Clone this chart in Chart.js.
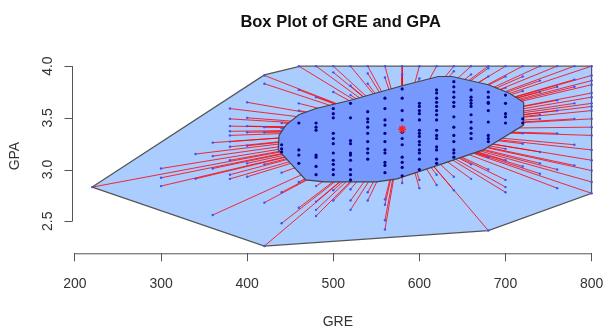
<!DOCTYPE html>
<html>
<head>
<meta charset="utf-8">
<script src="https://cdn.jsdelivr.net/npm/chart.js@4"></script>
<style>
  body { margin: 0; background: #fff; }
  #wrap { width: 609px; height: 336px; }
</style>
</head>
<body>
<div id="wrap"><canvas id="chart"></canvas></div>
<script>
// tick labels
const xTicks = [200, 300, 400, 500, 600, 700, 800];
const yTicks = [2.5, 3.0, 3.5, 4.0];

// loop (outer hull) and bag (inner hull) vertices
const loopGre = [220, 420, 462, 800, 800, 680, 420, 220];
const loopGpa = [2.83, 3.915, 4.0, 4.0, 2.77, 2.41, 2.26, 2.83];
const bagGre = [436, 437, 445, 460, 480, 520, 580, 622, 638, 680, 704, 721, 721, 674, 628, 574, 550, 490, 468, 436];
const bagGpa = [3.19, 3.33, 3.43, 3.53, 3.59, 3.67, 3.81, 3.90, 3.90, 3.82, 3.74, 3.65, 3.43, 3.19, 3.06, 2.91, 2.88, 2.88, 2.90, 3.19];

// depth median
const centerGre = 580;
const centerGpa = 3.39;

// points inside the bag
const bagPtGre = [
  440, 440, 440,
  460, 460, 460, 460,
  480, 480, 480, 480, 480, 480, 480,
  500, 500, 500, 500, 500, 500, 500, 500, 500, 500, 500,
  520, 520, 520, 520, 520, 520, 520, 520, 520, 520,
  540, 540, 540, 540, 540, 540, 540, 540, 540,
  560, 560, 560, 560, 560, 560, 560, 560, 560, 560, 560,
  580, 580, 580, 580, 580, 580, 580, 580, 580, 580, 580,
  600, 600, 600, 600, 600, 600, 600, 600, 600, 600, 600, 600, 600, 600,
  620, 620, 620, 620, 620, 620, 620, 620, 620, 620, 620, 620, 620, 620, 620,
  640, 640, 640, 640, 640, 640, 640, 640, 640, 640, 640, 640, 640,
  660, 660, 660, 660, 660, 660, 660, 660, 660, 660,
  680, 680, 680, 680, 680, 680, 680, 680, 680,
  700, 700, 700, 700, 700,
  720, 720
];
const bagPtGpa = [
  3.24, 3.20, 3.17,
  3.45, 3.19, 3.14, 3.06,
  3.45, 3.41, 3.38, 3.14, 3.12, 3.03, 2.95,
  3.59, 3.54, 3.50, 3.35, 3.30, 3.25, 3.16, 3.09, 3.05, 3.00, 2.95,
  3.64, 3.50, 3.28, 3.25, 3.16, 3.14, 3.09, 3.00, 2.95, 2.90,
  3.56, 3.49, 3.46, 3.41, 3.35, 3.27, 3.20, 3.16, 3.10,
  3.69, 3.59, 3.48, 3.43, 3.35, 3.27, 3.19, 3.16, 3.07, 3.04, 2.97,
  3.78, 3.69, 3.57, 3.48, 3.36, 3.30, 3.24, 3.12, 3.07, 3.02, 2.94,
  3.64, 3.61, 3.57, 3.54, 3.48, 3.38, 3.35, 3.32, 3.27, 3.24, 3.19, 3.16, 3.10, 3.00,
  3.77, 3.74, 3.69, 3.65, 3.61, 3.57, 3.53, 3.48, 3.38, 3.33, 3.30, 3.22, 3.19, 3.10, 3.06,
  3.85, 3.80, 3.75, 3.70, 3.65, 3.61, 3.51, 3.41, 3.33, 3.27, 3.19, 3.16, 3.12,
  3.77, 3.70, 3.67, 3.64, 3.61, 3.53, 3.46, 3.40, 3.35, 3.30,
  3.75, 3.70, 3.65, 3.64, 3.57, 3.46, 3.33, 3.30, 3.27,
  3.72, 3.64, 3.54, 3.51, 3.45,
  3.49, 3.45
];

// points between bag and loop
const outGre = [
  220,
  300, 300, 300,
  340, 340,
  360, 360, 360, 360,
  380, 380, 380, 380, 380, 380, 380, 380, 380, 380,
  400, 400, 400, 400, 400, 400, 400,
  420, 420, 420, 420, 420, 420, 420,
  440, 440, 440, 440, 440,
  460, 460, 460, 460, 460, 460,
  480, 480, 480, 480, 480, 480,
  500, 500, 500, 500, 500,
  520, 520, 520, 520, 520, 520,
  540, 540, 540, 540, 540,
  560, 560, 560, 560, 560, 560,
  580, 580, 580,
  600, 600, 600, 600,
  620, 620, 620,
  640, 640, 640, 640,
  660, 660, 660, 660,
  680, 680, 680, 680, 680, 680,
  700, 700, 700, 700, 700, 700, 700, 700,
  720, 720, 720, 720, 720, 720,
  740, 740, 740, 740, 740, 740, 740, 740,
  760, 760, 760, 760, 760, 760, 760,
  780, 780, 780, 780, 780, 780, 780,
  800, 800, 800, 800, 800, 800, 800, 800, 800, 800, 800, 800, 800, 800, 800, 800, 800
];
const outGpa = [
  2.83,
  3.01, 2.92, 2.84,
  3.15, 2.91,
  3.26, 3.13, 3.01, 2.56,
  3.59, 3.49, 3.42, 3.37, 3.33, 3.27, 3.22, 3.09, 2.95, 2.91,
  3.65, 3.50, 3.42, 3.36, 3.23, 3.06, 2.93,
  3.91, 3.83, 3.41, 3.36, 3.05, 2.68, 2.26,
  3.45, 3.40, 2.97, 2.78, 2.48,
  4.00, 3.77, 3.64, 3.57, 2.88, 2.63,
  4.00, 3.70, 2.84, 2.69, 2.61, 2.55,
  4.00, 3.94, 3.75, 2.80, 2.70,
  4.00, 3.81, 3.72, 2.81, 2.70, 2.61,
  4.00, 3.93, 3.83, 2.78, 2.70,
  4.00, 3.89, 2.71, 2.66, 2.51, 2.42,
  4.00, 3.92, 2.87,
  4.00, 3.88, 2.90, 2.82,
  4.00, 2.95, 2.85,
  4.00, 3.95, 2.93, 2.80,
  4.00, 3.92, 3.05, 2.91,
  4.00, 3.98, 3.90, 3.12, 3.00, 2.41,
  4.00, 3.90, 3.79, 3.20, 3.09, 2.90, 2.83, 2.78,
  4.00, 3.90, 3.76, 3.35, 3.25, 3.03,
  4.00, 3.86, 3.75, 3.53, 3.49, 3.17, 3.06, 2.96,
  4.00, 3.80, 3.67, 3.57, 3.35, 3.00, 2.82,
  4.00, 3.87, 3.80, 3.64, 3.49, 3.24, 3.04,
  4.00, 3.91, 3.86, 3.82, 3.74, 3.70, 3.64, 3.61, 3.57, 3.49, 3.41, 3.33, 3.19, 3.09, 2.99, 2.88, 2.77
];

const toXY = (xs, ys) => xs.map((x, i) => ({x: x, y: ys[i]}));

// one segment per outer point, towards the median, split by gaps
const whiskers = [];
outGre.forEach((g, i) => {
  whiskers.push({x: g, y: outGpa[i]});
  whiskers.push({x: centerGre, y: centerGpa});
  whiskers.push({x: centerGre, y: null});
});

const font = 'Liberation Sans, Arial, sans-serif';

// R style axes: line only between first and last tick, y labels parallel to axis
const rAxes = {
  id: 'rAxes',
  afterDraw(chart) {
    const {ctx, chartArea, scales: {x, y}} = chart;
    ctx.save();
    ctx.strokeStyle = '#555';
    ctx.lineWidth = 1;
    ctx.beginPath();
    ctx.moveTo(x.getPixelForValue(xTicks[0]), chartArea.bottom + 0.5);
    ctx.lineTo(x.getPixelForValue(xTicks[xTicks.length - 1]), chartArea.bottom + 0.5);
    const lx = Math.round(chartArea.left) + 0.5;
    ctx.moveTo(lx, y.getPixelForValue(yTicks[0]));
    ctx.lineTo(lx, y.getPixelForValue(yTicks[yTicks.length - 1]));
    yTicks.forEach(v => {
      const py = Math.round(y.getPixelForValue(v)) + 0.5;
      ctx.moveTo(lx, py);
      ctx.lineTo(lx - 8, py);
    });
    ctx.stroke();

    ctx.fillStyle = '#333';
    ctx.textAlign = 'center';
    ctx.textBaseline = 'middle';
    ctx.font = '14px ' + font;
    yTicks.forEach(v => {
      ctx.save();
      ctx.translate(48, y.getPixelForValue(v));
      ctx.rotate(-Math.PI / 2);
      ctx.fillText(v.toFixed(1), 0, 0);
      ctx.restore();
    });
    ctx.save();
    ctx.translate(15, (chartArea.top + chartArea.bottom) / 2);
    ctx.rotate(-Math.PI / 2);
    ctx.fillText('GPA', 0, 0);
    ctx.restore();
    ctx.restore();
  }
};

const ctx = document.querySelector('#chart').getContext('2d');

const chart = new Chart(ctx, {
  type: 'scatter',
  data: {
    datasets: [
      {
        type: 'line',
        label: 'loop',
        data: toXY(loopGre, loopGpa),
        backgroundColor: '#aaccff',
        borderColor: '#555555',
        borderWidth: 1.2,
        fill: 'shape',
        pointRadius: 0,
        tension: 0,
        order: 6
      },
      {
        type: 'line',
        label: 'whiskers',
        data: whiskers,
        borderColor: 'rgba(255,0,0,0.8)',
        borderWidth: 1,
        fill: false,
        pointRadius: 0,
        spanGaps: false,
        order: 5
      },
      {
        type: 'line',
        label: 'bag',
        data: toXY(bagGre, bagGpa),
        backgroundColor: '#7799ff',
        borderColor: '#444444',
        borderWidth: 1.2,
        fill: 'shape',
        pointRadius: 0,
        tension: 0,
        order: 4
      },
      {
        label: 'loop points',
        data: toXY(outGre, outGpa),
        backgroundColor: '#3355ff',
        borderColor: '#3355ff',
        pointRadius: 1.2,
        borderWidth: 0,
        order: 3
      },
      {
        label: 'bag points',
        data: toXY(bagPtGre, bagPtGpa),
        backgroundColor: '#000088',
        borderColor: '#000088',
        pointRadius: 1.6,
        borderWidth: 0,
        order: 2
      },
      {
        label: 'center',
        data: [{x: centerGre, y: centerGpa}],
        pointStyle: 'star',
        pointRadius: 4,
        borderColor: '#ff2020',
        backgroundColor: '#ff8800',
        borderWidth: 1.5,
        order: 1
      }
    ]
  },
  options: {
    responsive: true,
    maintainAspectRatio: false,
    animation: false,
    devicePixelRatio: 1,
    layout: { padding: { left: 72.2, right: 0, top: 0, bottom: 0 } },
    scales: {
      x: {
        type: 'linear',
        min: 196.8,
        max: 813.8,
        afterBuildTicks: s => { s.ticks = xTicks.map(v => ({value: v})); },
        afterFit: s => { s.paddingLeft = 0; s.paddingRight = 0; s.height = 82.7; },
        grid: { drawOnChartArea: false, drawTicks: true, tickLength: 8, color: '#555' },
        border: { display: false },
        ticks: { padding: 14, color: '#333', font: { family: font, size: 14 } },
        title: { display: true, text: 'GRE', color: '#333', font: { family: font, size: 14 }, padding: { top: 0, bottom: 5 } }
      },
      y: {
        type: 'linear',
        display: false,
        min: 2.19,
        max: 4.07
      }
    },
    plugins: {
      legend: { display: false },
      tooltip: { enabled: false },
      title: {
        display: true,
        text: 'Box Plot of GRE and GPA',
        color: '#111',
        font: { family: font, size: 16.5, weight: 'bold' },
        padding: { top: 12.1, bottom: 27 }
      }
    }
  },
  plugins: [rAxes]
});
</script>
</body>
</html>
